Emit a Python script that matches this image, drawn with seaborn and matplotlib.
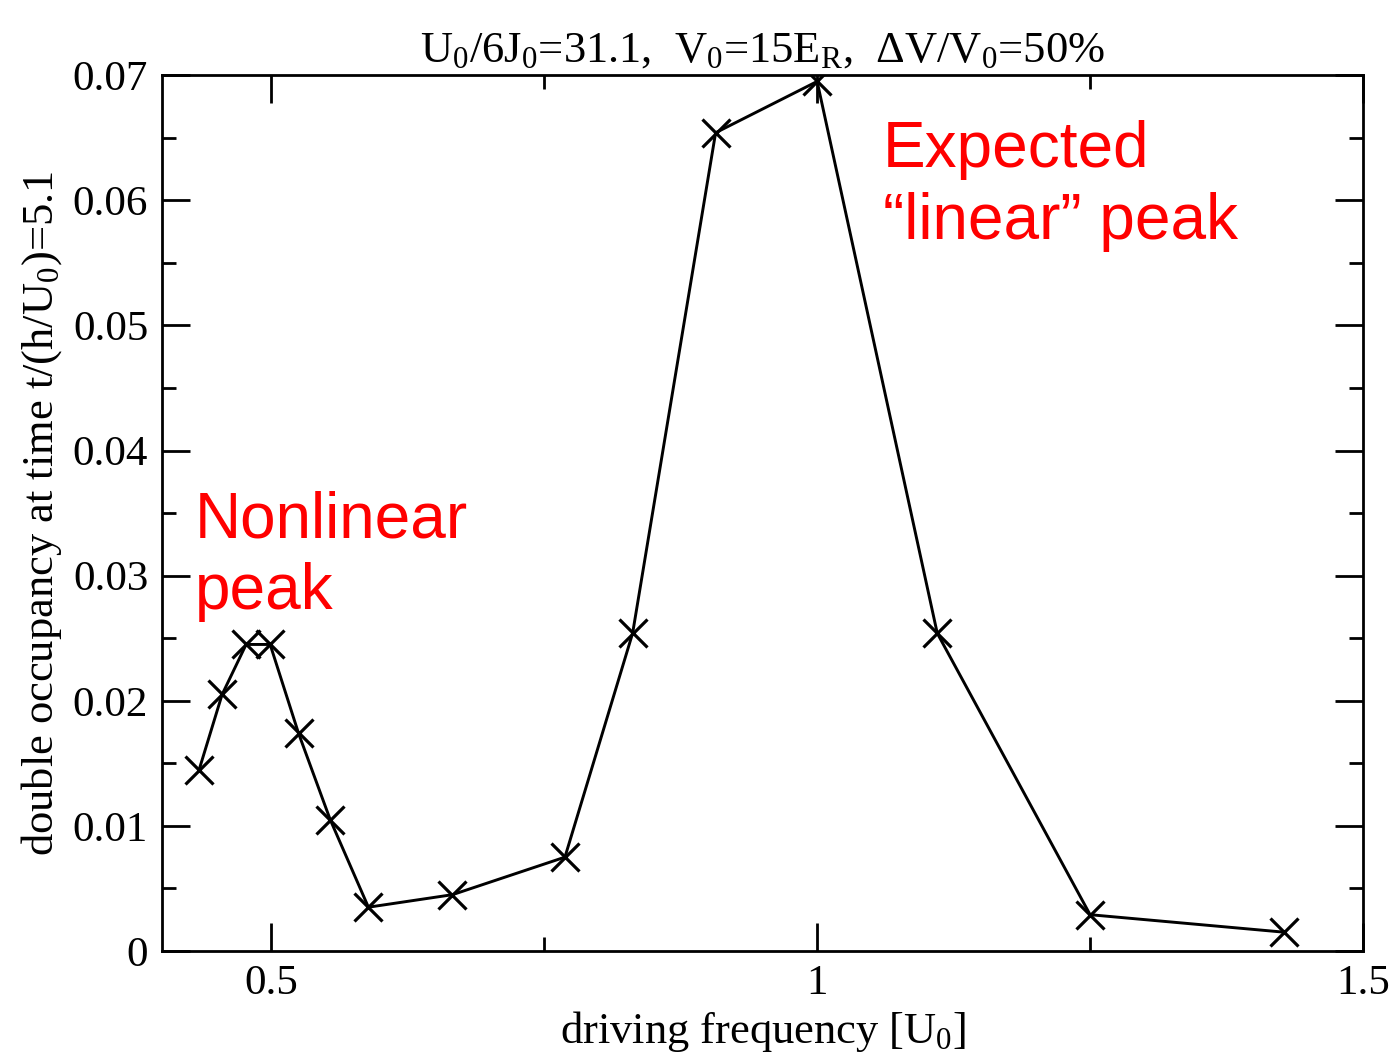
import matplotlib
matplotlib.use("Agg")
import matplotlib.pyplot as plt
import seaborn as sns
import pandas as pd
from matplotlib.ticker import MultipleLocator

freq = [0.434, 0.455, 0.477, 0.499, 0.525, 0.554, 0.589, 0.666, 0.769, 0.831, 0.907, 1.0, 1.110, 1.250, 1.428]
docc = [0.0145, 0.0205, 0.0245, 0.0245, 0.0174, 0.0105, 0.0035, 0.0045, 0.0075, 0.0254, 0.0654, 0.0695, 0.0254, 0.0029, 0.0015]

title = r"U$_0$/6J$_0$=31.1,  V$_0$=15E$_\mathregular{R}$,  ΔV/V$_0$=50%"
xlabel = r"driving frequency [U$_0$]"
ylabel = r"double occupancy at time t/(h/U$_0$)=5.1"

sns.set_style("ticks")
plt.rcParams['font.family'] = ['Liberation Serif', 'DejaVu Serif']
plt.rcParams['mathtext.fontset'] = 'custom'
plt.rcParams['mathtext.rm'] = 'Liberation Serif'
plt.rcParams['mathtext.it'] = 'Liberation Serif'
plt.rcParams['mathtext.default'] = 'rm'
plt.rcParams['text.color'] = 'black'
plt.rcParams['axes.labelcolor'] = 'black'

df = pd.DataFrame({"freq": freq, "docc": docc})

fig = plt.figure(figsize=(13.97, 10.59), dpi=100)
ax = fig.add_axes([0.116, 0.102, 0.8597, 0.827])
sns.lineplot(data=df, x="freq", y="docc", ax=ax, color="black", linewidth=2.1,
             marker="x", markersize=20, markeredgewidth=2.3, markeredgecolor="black",
             sort=False)

ax.set_xlim(0.4, 1.5)
ax.set_ylim(0, 0.07)
ax.xaxis.set_minor_locator(MultipleLocator(0.25))
ax.yaxis.set_minor_locator(MultipleLocator(0.005))
ax.set_xticks([0.5, 1.0, 1.5])
ax.set_xticklabels(["0.5", "1", "1.5"])
ax.set_yticks([0, 0.01, 0.02, 0.03, 0.04, 0.05, 0.06, 0.07])
ax.set_yticklabels(["0", "0.01", "0.02", "0.03", "0.04", "0.05", "0.06", "0.07"])
ax.tick_params(which="both", direction="in", top=True, right=True, width=2, colors="black")
ax.tick_params(which="major", length=20, labelsize=31, pad=10)
ax.tick_params(which="minor", length=10)
for s in ax.spines.values():
    s.set_linewidth(2)
    s.set_color("black")

ax.set_xlabel(xlabel, fontsize=32, labelpad=4, color="black")
ax.set_ylabel(ylabel, fontsize=32, labelpad=6, color="black")
ax.set_title(title, fontsize=32, pad=10, color="black")

red_font = ['Liberation Sans', 'DejaVu Sans']
ax.text(0.430, 0.0368, "Nonlinear\npeak", color="red", fontsize=46, family=red_font,
        ha="left", va="top", linespacing=1.25)
ax.text(1.060, 0.0664, "Expected\n\u201clinear\u201d peak", color="red", fontsize=46, family=red_font,
        ha="left", va="top", linespacing=1.25)

fig.savefig("out.png", dpi=100)
